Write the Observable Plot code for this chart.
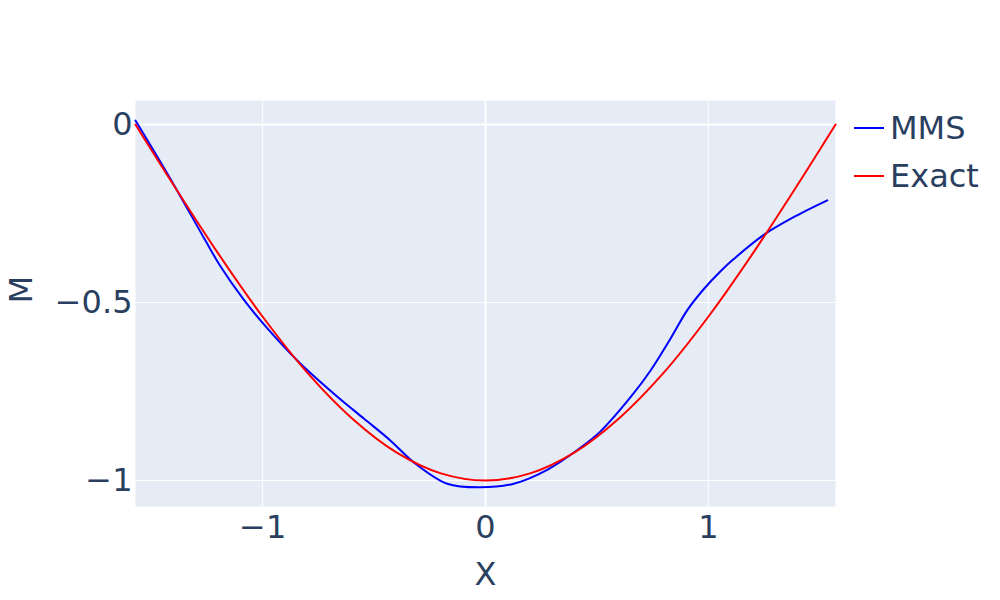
<!DOCTYPE html>
<html>
<head>
<meta charset="utf-8">
<script src="https://cdn.jsdelivr.net/npm/d3@7"></script>
<script src="https://cdn.jsdelivr.net/npm/@observablehq/plot@0.6"></script>
<style>
  html, body { margin: 0; padding: 0; background: #fff; }
  #wrap { position: relative; width: 1000px; height: 600px; font-family: "DejaVu Sans", Verdana, sans-serif; }
  .leg { position: absolute; left: 854px; display: flex; align-items: center; font-size: 32px; color: #2a3f5f; }
  .leg .sw { width: 30px; height: 2px; margin-right: 6px; }
</style>
</head>
<body>
<div id="wrap"></div>
<script>
// ---- data ----
const mmsX = [-1.571, -1.414, -1.257, -1.189, -1.085, -0.980, -0.830, -0.666, -0.546, -0.426, -0.322, -0.172, -0.022, 0.127, 0.277, 0.426, 0.516, 0.651, 0.741, 0.830, 0.905, 0.980, 1.055, 1.114, 1.249, 1.399, 1.534];
const mmsM = [0.011, -0.153, -0.326, -0.399, -0.492, -0.572, -0.672, -0.764, -0.826, -0.888, -0.949, -1.009, -1.019, -1.009, -0.970, -0.908, -0.862, -0.766, -0.691, -0.602, -0.522, -0.462, -0.412, -0.378, -0.310, -0.255, -0.213];
const exactX = [-1.571, -1.4, -1.2, -1.0, -0.8, -0.6, -0.4, -0.2, 0, 0.2, 0.4, 0.6, 0.8, 1.0, 1.2, 1.4, 1.571];
const exactM = [0, -0.170, -0.362, -0.540, -0.697, -0.825, -0.921, -0.980, -1.0, -0.980, -0.921, -0.825, -0.697, -0.540, -0.362, -0.170, 0];
const xTicks = [-1, 0, 1];
const yTicks = [0, -0.5, -1];
const seriesNames = ["MMS", "Exact"];
const seriesColors = ["#0000ff", "#ff0000"];

const mms = mmsX.map((x, i) => ({x, M: mmsM[i]}));
const exact = exactX.map((x, i) => ({x, M: exactM[i]}));
const fmt = d => d < 0 ? "\u2212" + Math.abs(d) : String(d);
const ink = "#2a3f5f";
const font = "DejaVu Sans, Verdana, sans-serif";

const chart = Plot.plot({
  width: 1000,
  height: 600,
  marginLeft: 135,
  marginRight: 165,
  marginTop: 100,
  marginBottom: 94,
  style: { fontFamily: font, color: ink, background: "white" },
  x: { domain: [-1.5708, 1.5708] },
  y: { domain: [-1.073, 0.0674] },
  marks: [
    Plot.frame({ fill: "#e5ecf6", stroke: null }),
    Plot.ruleX(xTicks.filter(d => d !== 0), { stroke: "white", strokeWidth: 1 }),
    Plot.ruleY(yTicks.filter(d => d !== 0), { stroke: "white", strokeWidth: 1 }),
    Plot.ruleX([0], { stroke: "white", strokeWidth: 2 }),
    Plot.ruleY([0], { stroke: "white", strokeWidth: 2 }),
    Plot.line(mms, { x: "x", y: "M", stroke: seriesColors[0], strokeWidth: 2, curve: "catmull-rom" }),
    Plot.line(exact, { x: "x", y: "M", stroke: seriesColors[1], strokeWidth: 2, curve: "catmull-rom" }),
    Plot.axisX(xTicks, { tickSize: 0, tickPadding: 9, fontSize: 32, tickFormat: fmt, label: null, fill: ink }),
    Plot.axisY(yTicks, { tickSize: 0, tickPadding: 3, fontSize: 32, tickFormat: fmt, label: null, fill: ink }),
    Plot.text(["X"], { frameAnchor: "bottom", dy: 68, lineAnchor: "middle", fontSize: 32, fill: ink }),
    Plot.text(["M"], { frameAnchor: "left", dx: -114, rotate: -90, lineAnchor: "middle", fontSize: 32, fill: ink })
  ]
});

const wrap = document.getElementById("wrap");
wrap.appendChild(chart);
const legTops = [128, 176];
seriesNames.forEach((name, i) => {
  const item = document.createElement("div");
  item.className = "leg";
  item.style.top = (legTops[i] - 20) + "px";
  item.style.height = "40px";
  const sw = document.createElement("span");
  sw.className = "sw";
  sw.style.background = seriesColors[i];
  const t = document.createElement("span");
  t.textContent = name;
  item.appendChild(sw);
  item.appendChild(t);
  wrap.appendChild(item);
});
</script>
</body>
</html>
